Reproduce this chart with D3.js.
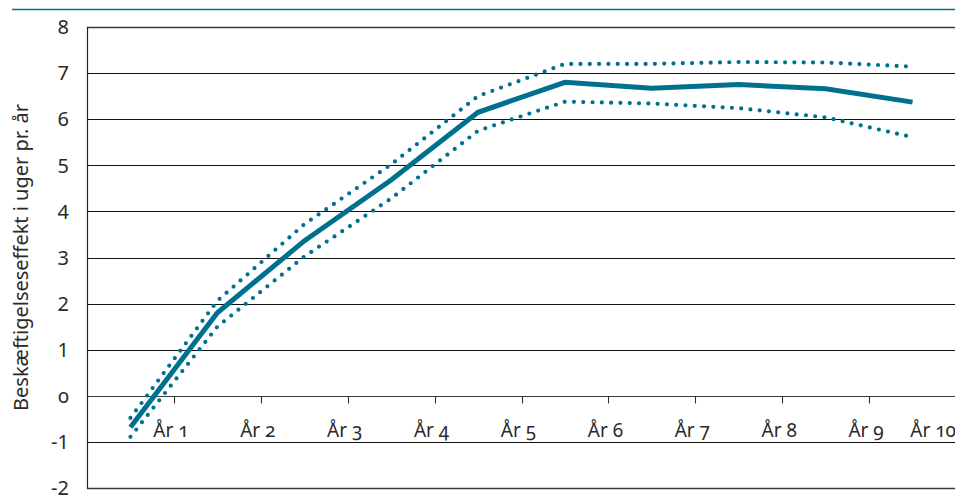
<!DOCTYPE html>
<html><head><meta charset="utf-8">
<script src="https://cdn.jsdelivr.net/npm/d3@7"></script>
<style>
html,body{margin:0;padding:0;background:#fff;}
svg{display:block;font-family:"Noto Sans",sans-serif;}
.onum{font-feature-settings:"onum" 1;}
</style></head><body>
<script>
const categories = ["År 1","År 2","År 3","År 4","År 5","År 6","År 7","År 8","År 9","År 10"];
const estimate = [-0.68, 1.8, 3.36, 4.68, 6.15, 6.8, 6.67, 6.75, 6.66, 6.37];
const upper    = [-0.48, 2.06, 3.72, 5.02, 6.5, 7.2, 7.2, 7.24, 7.23, 7.14];
const lower    = [-0.89, 1.5, 3.02, 4.28, 5.75, 6.38, 6.34, 6.24, 6.04, 5.61];
const yTicks   = [-2,-1,0,1,2,3,4,5,6,7,8];
const yTitle   = "Beskæftigelseseffekt i uger pr. år";

const W = 955, H = 495;
const teal = "#00708f";
const svg = d3.select("body").append("svg").attr("width", W).attr("height", H);

const x = d3.scaleBand().domain(categories).range([87, 956]).paddingInner(0).paddingOuter(0);
const y = d3.scaleLinear().domain([-2, 8]).range([488, 27]);

// top rule
svg.append("line").attr("x1", 12).attr("x2", W).attr("y1", 9.5).attr("y2", 9.5)
  .attr("stroke", teal).attr("stroke-width", 1.6);

// gridlines
svg.append("g").selectAll("line").data(yTicks).join("line")
  .attr("x1", 87).attr("x2", W)
  .attr("y1", d => Math.round(y(d)) + 0.5).attr("y2", d => Math.round(y(d)) + 0.5)
  .attr("stroke", d => (d === 8 || d === 0 || d === -2) ? "#3a3a3a" : "#111")
  .attr("stroke-width", d => (d === 8 || d === -2) ? 1.6 : 1.1);

// left axis line
svg.append("line").attr("x1", 87.5).attr("x2", 87.5).attr("y1", y(8)).attr("y2", y(-2) + 0.5)
  .attr("stroke", "#222").attr("stroke-width", 1.2);

// y tick labels
svg.append("g").selectAll("text").data(yTicks).join("text")
  .attr("class", d => d === 0 ? "onum" : null)
  .attr("x", 69).attr("y", d => y(d)).attr("dy", "0.36em")
  .attr("text-anchor", "end").attr("font-size", 20).attr("fill", "#2a2a2a")
  .text(d => d);

// x ticks at band boundaries on the zero line
const y0 = Math.round(y(0)) + 0.5;
svg.append("g").selectAll("line").data(categories.slice(0, 9)).join("line")
  .attr("x1", d => Math.round(x(d) + x.bandwidth()) + 0.5)
  .attr("x2", d => Math.round(x(d) + x.bandwidth()) + 0.5)
  .attr("y1", y0).attr("y2", y0 + 7)
  .attr("stroke", "#333").attr("stroke-width", 1.1);

// x labels
const xl = svg.append("g").selectAll("text").data(categories).join("text")
  .attr("class", "onum")
  .attr("y", 437).attr("text-anchor", "middle").attr("font-size", 19).attr("fill", "#2a2a2a")
  .text(d => d);
xl.each(function(d) {
  const w = this.getComputedTextLength();
  let cx = x(d) + x.bandwidth() - 3;
  cx = Math.min(cx, W - w / 2 + 1);
  d3.select(this).attr("x", cx);
});

// y axis title
svg.append("text").attr("transform", `translate(28,${(y(8) + y(-2)) / 2}) rotate(-90)`)
  .attr("text-anchor", "middle").attr("font-size", 20).attr("fill", "#2a2a2a")
  .text(yTitle);

const line = d3.line().x((d, i) => x(categories[i]) + x.bandwidth() / 2).y(d => y(d));

[upper, lower].forEach(s => {
  svg.append("path").datum(s).attr("d", line).attr("fill", "none")
    .attr("stroke", teal).attr("stroke-width", 4.2).attr("stroke-linecap", "round")
    .attr("stroke-dasharray", "0 9.3");
});
svg.append("path").datum(estimate).attr("d", line).attr("fill", "none")
  .attr("stroke", teal).attr("stroke-width", 5).attr("stroke-linejoin", "miter");
</script>
</body></html>
